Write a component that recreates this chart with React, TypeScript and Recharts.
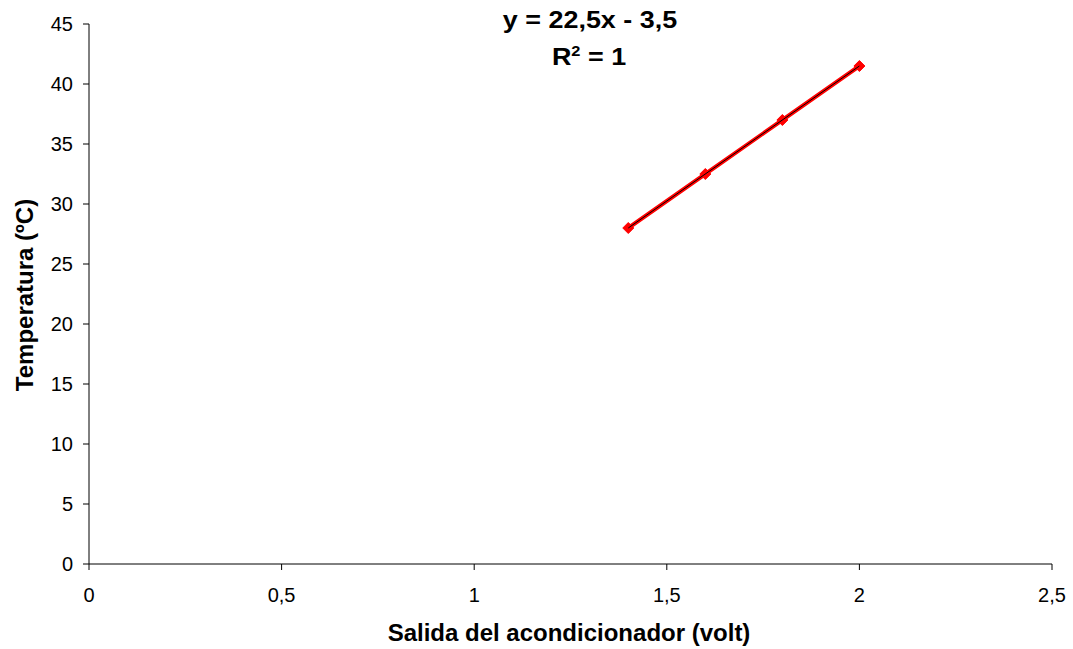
import React from 'react'
import { ScatterChart, Scatter, XAxis, YAxis } from 'recharts'

// measured points (volt -> ºC)
const voltage = [1.4, 1.6, 1.8, 2]
const temperature = [28, 32.5, 37, 41.5]

// linear trendline y = 22,5x - 3,5 over the data range
const trendVoltage = [1.4, 2]
const trendTemperature = [28, 41.5]

const xTicks = [0, 0.5, 1, 1.5, 2, 2.5]
const yTicks = [0, 5, 10, 15, 20, 25, 30, 35, 40, 45]

const equationText = 'y = 22,5x - 3,5'
const xTitle = 'Salida del acondicionador (volt)'
const yTitle = 'Temperatura (ºC)'

const FONT = '"Liberation Sans", Arial, sans-serif'

const points = voltage.map((v, i) => ({ x: v, y: temperature[i] }))
const trend = trendVoltage.map((v, i) => ({ x: v, y: trendTemperature[i] }))

const fmt = (v: number) => String(v).replace('.', ',')

function Diamond(props: any) {
  const { cx, cy } = props
  const r = 5.5
  return (
    <polygon
      points={`${cx},${cy - r} ${cx + r},${cy} ${cx},${cy + r} ${cx - r},${cy}`}
      fill="#FF0000"
      stroke="#FF0000"
    />
  )
}

function XTick(props: any) {
  const { x, payload } = props
  return (
    <text x={x} y={602} textAnchor="middle" fontSize={20} fontFamily={FONT} fill="#000">
      {fmt(payload.value)}
    </text>
  )
}

function YTick(props: any) {
  const { y, payload } = props
  return (
    <text x={73} y={y + 7} textAnchor="end" fontSize={20} fontFamily={FONT} fill="#000">
      {fmt(payload.value)}
    </text>
  )
}

const eqLine: React.CSSProperties = {
  position: 'absolute',
  transform: 'translateX(-50%) scaleX(1.17)',
  whiteSpace: 'nowrap',
  lineHeight: '24px',
}

export default function App() {
  return (
    <div style={{ position: 'absolute', left: 0, top: 0, width: 1073, height: 649, background: '#fff' }}>
      <ScatterChart width={1073} height={649} margin={{ top: 24, right: 21, bottom: 0, left: 0 }}>
        <XAxis
          type="number"
          dataKey="x"
          domain={[0, 2.5]}
          ticks={xTicks}
          height={85}
          stroke="#000"
          tickSize={6}
          tick={<XTick />}
          label={{
            content: () => (
              <text x={569} y={641} textAnchor="middle" fontSize={24} fontWeight="bold" fontFamily={FONT} fill="#000">
                {xTitle}
              </text>
            ),
          }}
        />
        <YAxis
          type="number"
          dataKey="y"
          domain={[0, 45]}
          ticks={yTicks}
          width={89}
          stroke="#000"
          tickSize={6}
          tick={<YTick />}
          label={{
            content: () => (
              <text
                x={33}
                y={295}
                transform="rotate(-90 33 295)"
                textAnchor="middle"
                fontSize={24}
                fontWeight="bold"
                fontFamily={FONT}
                fill="#000"
              >
                {yTitle}
              </text>
            ),
          }}
        />
        <Scatter
          data={points}
          line={{ stroke: '#FF0000', strokeWidth: 4 }}
          shape={<Diamond />}
          isAnimationActive={false}
        />
        <Scatter
          data={trend}
          line={{ stroke: '#000', strokeWidth: 1 }}
          shape={() => <g />}
          isAnimationActive={false}
        />
      </ScatterChart>
      <div
        style={{
          position: 'absolute',
          left: 0,
          top: 0,
          fontFamily: FONT,
          fontWeight: 'bold',
          fontSize: 23,
          color: '#000',
          pointerEvents: 'none',
        }}
      >
        <div style={{ ...eqLine, left: 590, top: 8 }}>{equationText}</div>
        <div style={{ ...eqLine, left: 589, top: 45 }}>
          R<span style={{ fontSize: 14, position: 'relative', top: -9 }}>2</span> = 1
        </div>
      </div>
    </div>
  )
}
